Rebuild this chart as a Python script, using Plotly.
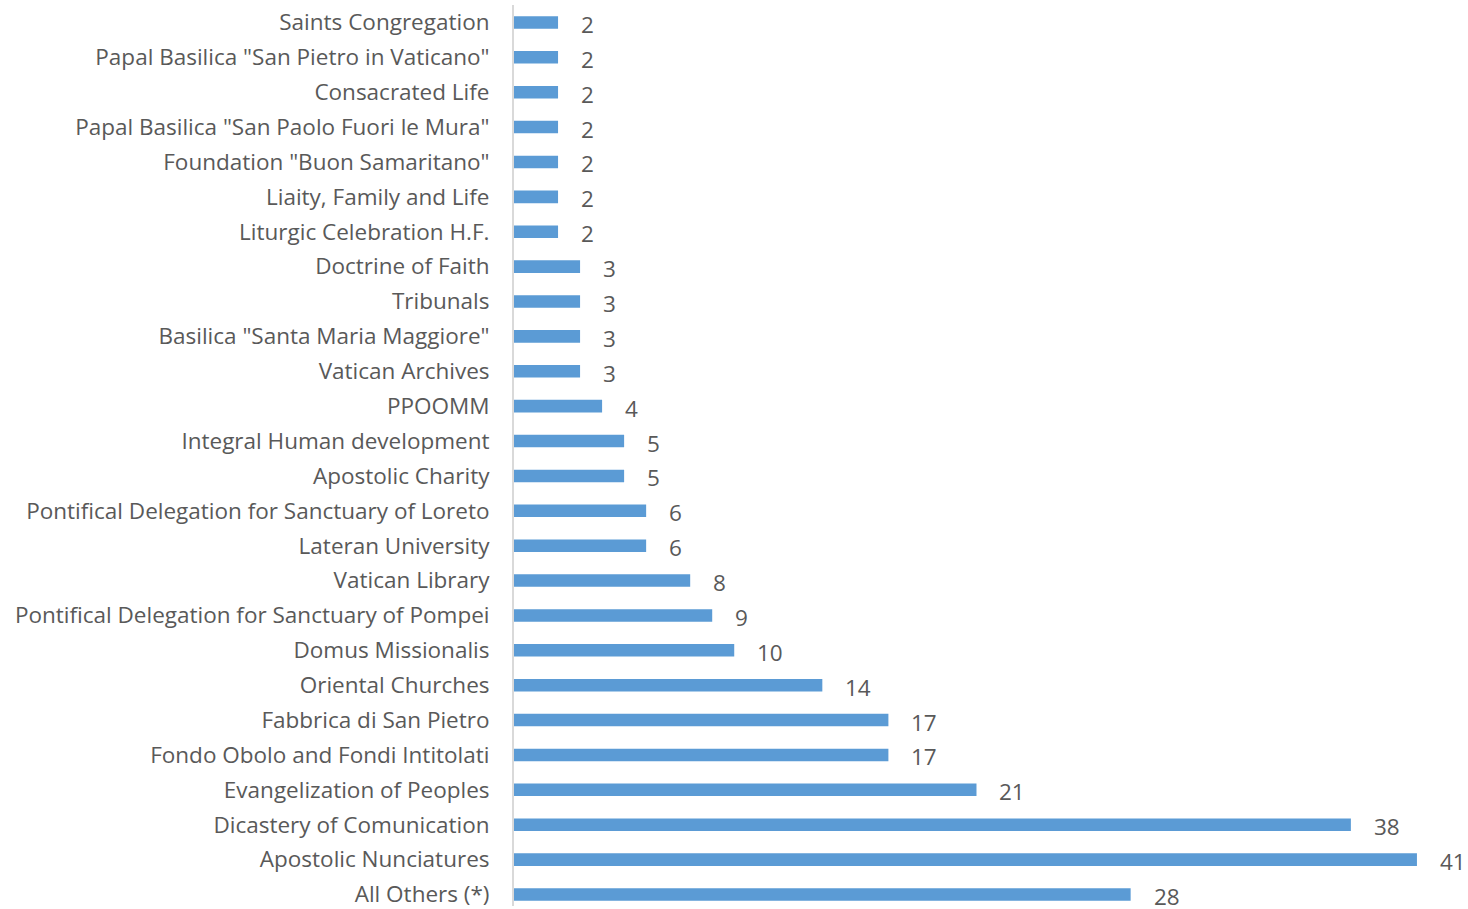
import plotly.graph_objects as go

CATEGORIES = [
    "Saints Congregation",
    'Papal Basilica "San Pietro in Vaticano"',
    "Consacrated Life",
    'Papal Basilica "San Paolo Fuori le Mura"',
    'Foundation "Buon Samaritano"',
    "Liaity, Family and Life",
    "Liturgic Celebration H.F.",
    "Doctrine of Faith",
    "Tribunals",
    'Basilica "Santa Maria Maggiore"',
    "Vatican Archives",
    "PPOOMM",
    "Integral Human development",
    "Apostolic Charity",
    "Pontifical Delegation for Sanctuary of Loreto",
    "Lateran University",
    "Vatican Library",
    "Pontifical Delegation for Sanctuary of Pompei",
    "Domus Missionalis",
    "Oriental Churches",
    "Fabbrica di San Pietro",
    "Fondo Obolo and Fondi Intitolati",
    "Evangelization of Peoples",
    "Dicastery of Comunication",
    "Apostolic Nunciatures",
    "All Others (*)",
]
VALUES = [2, 2, 2, 2, 2, 2, 2, 3, 3, 3, 3, 4, 5, 5, 6, 6, 8, 9, 10, 14, 17, 17, 21, 38, 41, 28]

BAR_COLOR = "#5b9bd5"
TEXT_COLOR = "#595959"
FONT = "Open Sans, sans-serif"
FONT_SIZE = 22.5

fig = go.Figure(
    go.Bar(
        x=VALUES,
        y=CATEGORIES,
        orientation="h",
        marker={"color": BAR_COLOR, "line": {"width": 0}},
        width=0.36,
        hoverinfo="x+y",
    )
)

# value labels sit a little to the right of each bar end
for cat, val in zip(CATEGORIES, VALUES):
    fig.add_annotation(
        x=val, y=cat, text=str(val), showarrow=False,
        xanchor="left", xshift=21, yshift=-2,
        font={"size": FONT_SIZE, "color": TEXT_COLOR, "family": FONT},
    )

fig.update_layout(
    width=1468,
    height=909,
    paper_bgcolor="white",
    plot_bgcolor="white",
    showlegend=False,
    font={"family": FONT, "size": FONT_SIZE, "color": TEXT_COLOR},
    margin={"l": 514, "r": 7, "t": 5, "b": 0},
)
fig.update_xaxes(range=[0, 43], visible=False, fixedrange=True)
fig.update_yaxes(
    range=[25.33, -0.5],
    showline=True,
    linecolor="#d9d9d9",
    linewidth=2,
    ticks="",
    showgrid=False,
    ticklabelstandoff=18,
    tickfont={"size": FONT_SIZE, "color": TEXT_COLOR, "family": FONT},
)

fig.write_html(
    "out.html",
    config={"displayModeBar": False},
    post_script="document.body.style.margin='0';",
)
